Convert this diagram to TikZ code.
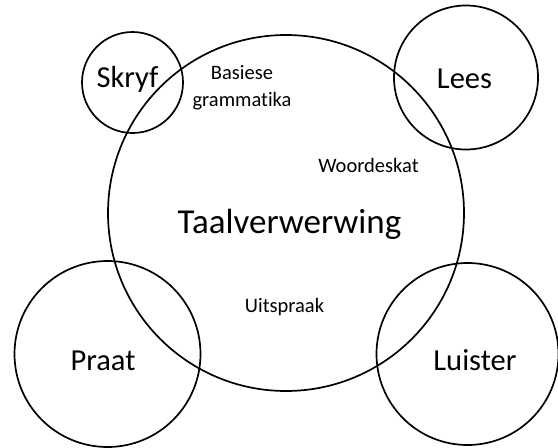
\documentclass[tikz,border=0pt]{standalone}
\usepackage{fontspec}
\setmainfont{Carlito}[Ligatures={NoCommon}]
\begin{document}
\begin{tikzpicture}[x=1pt,y=-1pt,
  ring/.style={draw=black, line width=1.7pt, circle, inner sep=0pt},
  biglabel/.style={anchor=base, inner sep=0pt, font=\fontsize{35}{41}\selectfont},
  midlabel/.style={anchor=base, inner sep=0pt, font=\fontsize{30.5}{36}\selectfont},
  smalllabel/.style={anchor=base, inner sep=0pt, align=center, font=\fontsize{20.5}{27}\selectfont}]
\useasboundingbox (0,0) rectangle (558,448);
% central circle and the four skills around it
\node[ring, minimum size=356pt] (taal) at (286,213) {};
\node[ring, minimum size=101pt] (skryf) at (132.5,82.5) {};
\node[ring, minimum size=144pt] (lees) at (466,77.5) {};
\node[ring, minimum size=186pt] (praat) at (107.5,354) {};
\node[ring, minimum size=182pt] (luister) at (467.5,354) {};
% labels
\node[biglabel] (tlabel) at (289.5,233) {Taalverwerwing};
\node[midlabel] (sklabel) at (127.5,87) {Skryf};
\node[midlabel] (lelabel) at (464.5,88) {Lees};
\node[midlabel] (prlabel) at (103,370) {Praat};
\node[midlabel] (lulabel) at (475,370) {Luister};
\node[smalllabel] (basies) at (242,106) {Basiese\\grammatika};
\node[smalllabel] (woord) at (368.5,172) {Woordeskat};
\node[smalllabel] (uit) at (284.5,312) {Uitspraak};
\end{tikzpicture}
\end{document}
